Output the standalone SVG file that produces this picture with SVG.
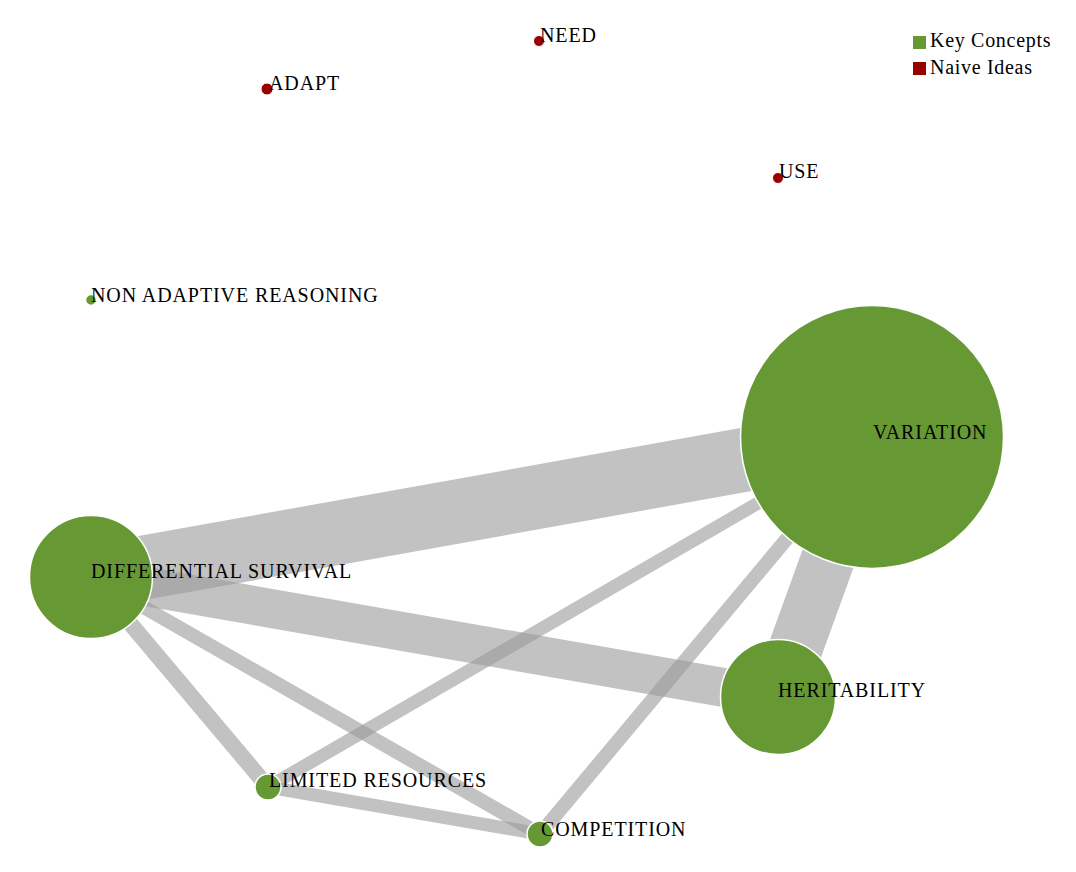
<svg xmlns="http://www.w3.org/2000/svg" width="1076" height="872" viewBox="0 0 1076 872">
<style>
.link{stroke:#999;stroke-opacity:0.6;fill:none}
.key{fill:#669934;stroke:#fff;stroke-width:1.5}
.naive{fill:#990000;stroke:#fff;stroke-width:1}
.lbl{font-family:"Liberation Serif","Times New Roman",serif;font-size:20px;letter-spacing:0.9px;fill:#000}
.leg{font-family:"Liberation Serif","Times New Roman",serif;font-size:20px;letter-spacing:0.7px;fill:#000}
</style>
<rect width="1076" height="872" fill="#fff"/>
<g id="links">
<line class="link" x1="91" y1="577" x2="872" y2="437" stroke-width="64"/>
<line class="link" x1="91" y1="577" x2="778" y2="697" stroke-width="39"/>
<line class="link" x1="872" y1="437" x2="778" y2="697" stroke-width="54"/>
<line class="link" x1="91" y1="577" x2="268" y2="787" stroke-width="16"/>
<line class="link" x1="91" y1="577" x2="540" y2="834" stroke-width="14"/>
<line class="link" x1="268" y1="787" x2="540" y2="834" stroke-width="13"/>
<line class="link" x1="268" y1="787" x2="872" y2="437" stroke-width="13"/>
<line class="link" x1="540" y1="834" x2="872" y2="437" stroke-width="14"/>
</g>
<g id="node-variation"><circle class="key" cx="872" cy="437" r="131.5"/><text class="lbl" x="873" y="439">VARIATION</text></g>
<g id="node-differential-survival"><circle class="key" cx="91" cy="577" r="61.5"/><text class="lbl" x="91" y="578">DIFFERENTIAL SURVIVAL</text></g>
<g id="node-heritability"><circle class="key" cx="778" cy="697" r="57.5"/><text class="lbl" x="778" y="697">HERITABILITY</text></g>
<g id="node-limited-resources"><circle class="key" cx="268" cy="787" r="13"/><text class="lbl" x="269" y="787">LIMITED RESOURCES</text></g>
<g id="node-competition"><circle class="key" cx="540" cy="834" r="13"/><text class="lbl" x="541" y="836">COMPETITION</text></g>
<g id="node-non-adaptive"><circle class="key" cx="91" cy="300" r="5.5" stroke-width="1"/><text class="lbl" x="91" y="302">NON ADAPTIVE REASONING</text></g>
<g id="node-need"><circle class="naive" cx="539" cy="41" r="5.5"/><text class="lbl" x="540" y="42">NEED</text></g>
<g id="node-adapt"><circle class="naive" cx="267" cy="89" r="6"/><text class="lbl" x="269" y="90">ADAPT</text></g>
<g id="node-use"><circle class="naive" cx="778" cy="178" r="5.5"/><text class="lbl" x="779" y="178">USE</text></g>
<g id="legend">
<rect x="913" y="36" width="13" height="13" fill="#669934"/>
<text class="leg" x="930" y="47">Key Concepts</text>
<rect x="913" y="62" width="13" height="13" fill="#990000"/>
<text class="leg" x="930" y="74">Naive Ideas</text>
</g>
</svg>
